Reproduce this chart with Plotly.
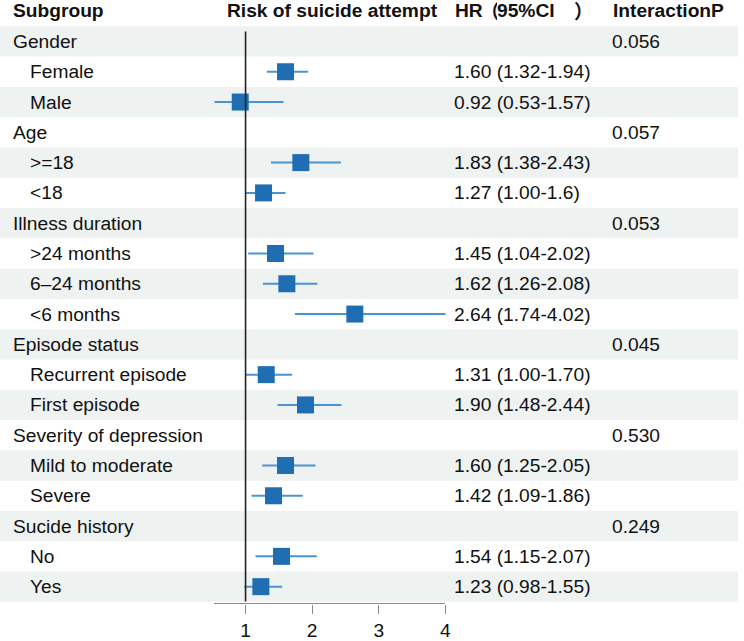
import plotly.graph_objects as go

# ---- data ----
labels = ["Gender", "Female", "Male", "Age", ">=18", "<18", "Illness duration",
          ">24 months", "6\u201324 months", "<6 months", "Episode status",
          "Recurrent episode", "First episode", "Severity of depression",
          "Mild to moderate", "Severe", "Sucide history", "No", "Yes"]
is_header = [True, False, False, True, False, False, True, False, False, False,
             True, False, False, True, False, False, True, False, False]
hr = [None, 1.60, 0.92, None, 1.83, 1.27, None, 1.45, 1.62, 2.64, None,
      1.31, 1.90, None, 1.60, 1.42, None, 1.54, 1.23]
lo = [None, 1.32, 0.53, None, 1.38, 1.00, None, 1.04, 1.26, 1.74, None,
      1.00, 1.48, None, 1.25, 1.09, None, 1.15, 0.98]
hi = [None, 1.94, 1.57, None, 2.43, 1.60, None, 2.02, 2.08, 4.02, None,
      1.70, 2.44, None, 2.05, 1.86, None, 2.07, 1.55]
hr_text = ["", "1.60 (1.32-1.94)", "0.92 (0.53-1.57)", "", "1.83 (1.38-2.43)",
           "1.27 (1.00-1.6)", "", "1.45 (1.04-2.02)", "1.62 (1.26-2.08)",
           "2.64 (1.74-4.02)", "", "1.31 (1.00-1.70)", "1.90 (1.48-2.44)", "",
           "1.60 (1.25-2.05)", "1.42 (1.09-1.86)", "", "1.54 (1.15-2.07)",
           "1.23 (0.98-1.55)"]
p_text = ["0.056", "", "", "0.057", "", "", "0.053", "", "", "", "0.045", "", "",
          "0.530", "", "", "0.249", "", ""]
# column headers; the HR header is made of Latin parts and full-width brackets
col_headers = ["Subgroup", "Risk of suicide attempt", "InteractionP"]
hr_header_parts = ["HR", "\uff08", "95%CI", "\uff09"]
tick_vals = [1, 2, 3, 4]

# ---- layout geometry (pixels) ----
W, H = 744, 641
R = 30.67          # row height
c0 = 42            # centre of first row
axis_px = 611      # x-axis line
ymax = c0 / R
ymin = -(axis_px - c0) / R
x0_px, x1_px = 216, 449

FONT = "Liberation Sans, Arial, sans-serif"
CJK = "Noto Sans CJK SC"
FS = 19.2

fig = go.Figure()

rows = [i for i in range(len(labels)) if hr[i] is not None]
fig.add_trace(go.Scatter(
    x=[hr[i] for i in rows],
    y=[-i for i in rows],
    mode="markers",
    marker=dict(symbol="square", size=17, color="#1f6db3", line=dict(width=0)),
    error_x=dict(type="data", symmetric=False,
                 array=[hi[i] - hr[i] for i in rows],
                 arrayminus=[hr[i] - lo[i] for i in rows],
                 thickness=2, width=0, color="#4a94d4"),
    showlegend=False, hoverinfo="skip", cliponaxis=False,
))

shapes = []
for i in range(len(labels)):
    if i % 2 == 0:
        shapes.append(dict(type="rect", xref="paper", yref="y", x0=0, x1=1,
                           y0=-i - 0.5, y1=-i + 0.5, fillcolor="#eef2f1",
                           line=dict(width=0), layer="below"))
shapes.append(dict(type="line", xref="x", yref="y", x0=1, x1=1,
                   y0=(c0 - 32) / R, y1=-(609 - c0) / R,
                   line=dict(color="#222222", width=1.6), layer="above"))

ann = []
def add_text(txt, xpx, y, bold=False, family=FONT, box=None):
    a = dict(text=("<b>%s</b>" % txt) if bold else txt, xref="paper", yref="y",
             x=xpx / W, y=y, xanchor="left", yanchor="middle",
             showarrow=False, font=dict(family=family, size=FS, color="#111111"))
    if box:
        a.update(width=box[0], height=box[1], align="center", valign="middle")
    ann.append(a)

hy = (c0 - 11) / R
for txt, xpx in zip(col_headers, [11, 226.5, 615.5]):
    add_text(txt, xpx, hy, bold=True)
add_text(hr_header_parts[0], 456.5, hy, bold=True)
add_text(hr_header_parts[1], 484.5, hy, bold=True, family=CJK, box=(14, 30))
add_text(hr_header_parts[2], 499.5, hy, bold=True)
add_text(hr_header_parts[3], 577, hy, bold=True, family=CJK)

for i, lab in enumerate(labels):
    add_text(lab, 11 if is_header[i] else 28, -i)
    if hr_text[i]:
        add_text(hr_text[i], 456, -i)
    if p_text[i]:
        add_text(p_text[i], 615, -i)

fig.update_layout(
    width=W, height=H,
    margin=dict(l=0, r=0, t=0, b=0),
    paper_bgcolor="white", plot_bgcolor="rgba(0,0,0,0)",
    shapes=shapes, annotations=ann,
    xaxis=dict(domain=[x0_px / W, x1_px / W], range=[0.53, 4.0],
               tickvals=tick_vals, ticks="outside", ticklen=9, tickwidth=1.3,
               tickcolor="#888888", showline=True, linecolor="#888888", linewidth=1.3,
               showgrid=False, zeroline=False,
               tickfont=dict(family=FONT, size=FS, color="#111111")),
    yaxis=dict(domain=[(H - axis_px) / H, 1], range=[ymin, ymax],
               showticklabels=False, showgrid=False, zeroline=False, showline=False),
)

fig.write_html("out.html")
